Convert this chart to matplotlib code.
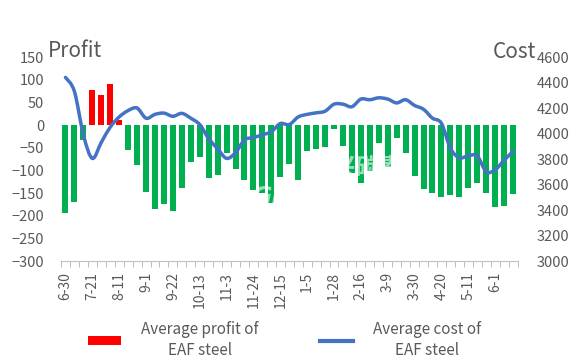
import matplotlib.pyplot as plt
import numpy as np
from matplotlib.path import Path
from matplotlib.patches import PathPatch, Patch
from matplotlib.lines import Line2D

plt.rcParams['font.family'] = ['Noto Sans CJK SC', 'DejaVu Sans']

# weekly dates (every 3rd one is labelled)
tick_labels = ['6-30', '7-21', '8-11', '9-1', '9-22', '10-13', '11-3', '11-24',
               '12-15', '1-5', '1-28', '2-16', '3-9', '3-30', '4-20', '5-11', '6-1']

# average profit of EAF steel (yuan/t)
profit = [-195, -169, -32, 77, 66, 90, 10, -56, -89, -148,
          -186, -175, -190, -139, -81, -71, -117, -110, -62, -98,
          -121, -143, -151, -173, -115, -85, -122, -58, -52, -48,
          -9, -46, -106, -127, -101, -39, -92, -28, -62, -112,
          -141, -151, -158, -155, -158, -138, -129, -151, -181, -179, -153]

# average cost of EAF steel (yuan/t)
cost = [4440, 4330, 3990, 3805, 3930, 4050, 4130, 4180, 4200, 4120,
        4150, 4160, 4135, 4158, 4120, 4070, 3960, 3880, 3805, 3850,
        3950, 3968, 3990, 4014, 4078, 4070, 4130, 4150, 4162, 4175,
        4230, 4230, 4210, 4270, 4265, 4280, 4270, 4240, 4265, 4220,
        4190, 4120, 4080, 3885, 3810, 3825, 3825, 3700, 3715, 3790, 3860]

gray = '#595959'
x = np.arange(len(profit))
colors = ['#FF0000' if v > 0 else '#00B050' for v in profit]

fig = plt.figure(figsize=(5.82, 3.62), dpi=100)
ax = fig.add_axes([0.1048, 0.279, 0.7844, 0.5635])
ax2 = ax.twinx()

ax.bar(x, profit, width=0.67, color=colors, zorder=2)

# smoothed cost line (Catmull-Rom -> cubic Bezier)
pts = np.column_stack([x, cost]).astype(float)
verts = [tuple(pts[0])]
codes = [Path.MOVETO]
n = len(pts)
for i in range(n - 1):
    p0 = pts[max(i - 1, 0)]
    p1 = pts[i]
    p2 = pts[i + 1]
    p3 = pts[min(i + 2, n - 1)]
    c1 = p1 + (p2 - p0) / 6.0
    c2 = p2 - (p3 - p1) / 6.0
    verts += [tuple(c1), tuple(c2), tuple(p2)]
    codes += [Path.CURVE4] * 3
ax2.add_patch(PathPatch(Path(verts, codes), fill=False, edgecolor='#4472C4',
                        linewidth=2.5, capstyle='round', joinstyle='round', zorder=3))

ax.set_xlim(-0.5, len(profit) - 0.5)
ax.set_ylim(-300, 150)
ax.set_yticks(np.arange(-300, 151, 50))
ax2.set_ylim(3000, 4600)
ax2.set_yticks(np.arange(3000, 4601, 200))

ax.set_xticks(x[::3])
ax.set_xticklabels(tick_labels, rotation=90)
ax.set_xticks(np.arange(-0.5, len(profit), 1), minor=True)
ax.tick_params(axis='x', which='major', length=0, pad=8, labelsize=10, labelcolor=gray)
ax.tick_params(axis='x', which='minor', length=4, color='#bfbfbf', width=0.75)
ax.tick_params(axis='y', length=0, pad=12, labelsize=10.5, labelcolor=gray)
ax2.tick_params(axis='y', length=0, pad=14, labelsize=10.5, labelcolor=gray)

for a in (ax, ax2):
    for s in ('top', 'left', 'right'):
        a.spines[s].set_visible(False)
ax2.spines['bottom'].set_visible(False)
ax.spines['bottom'].set_color('#bfbfbf')
ax.spines['bottom'].set_linewidth(0.75)

fig.text(48 / 582, 1 - 57 / 362, 'Profit', fontsize=15, color=gray, ha='left', va='baseline')
fig.text(493 / 582, 1 - 58 / 362, 'Cost', fontsize=15, color=gray, ha='left', va='baseline')

# watermark
fig.text(356 / 582, 1 - 168 / 362, '聚兴碳素', fontsize=17, color='white', alpha=0.6,
         ha='center', va='center', fontweight='bold', zorder=5)
fig.text(322 / 582, 1 - 197 / 362, 'GRAPHITE', fontsize=18, color='white', alpha=0.6,
         ha='center', va='center', fontweight='bold', fontstyle='italic',
         family='DejaVu Sans', zorder=5)

handles = [Patch(facecolor='#FF0000', edgecolor='none'),
           Line2D([0], [0], color='#4472C4', linewidth=3)]
labels = ['Average profit of\nEAF steel', 'Average cost of\nEAF steel']
leg = fig.legend(handles, labels, loc='center', bbox_to_anchor=(0.489, 0.062), ncol=2,
                 frameon=False, fontsize=11, handlelength=2.2, handleheight=0.5,
                 handletextpad=1.3, columnspacing=4.0, labelspacing=0.3)
for t in leg.get_texts():
    t.set_color(gray)
    t.set_multialignment('center')
    t.set_linespacing(1.3)

fig.savefig('out.png', dpi=100)
